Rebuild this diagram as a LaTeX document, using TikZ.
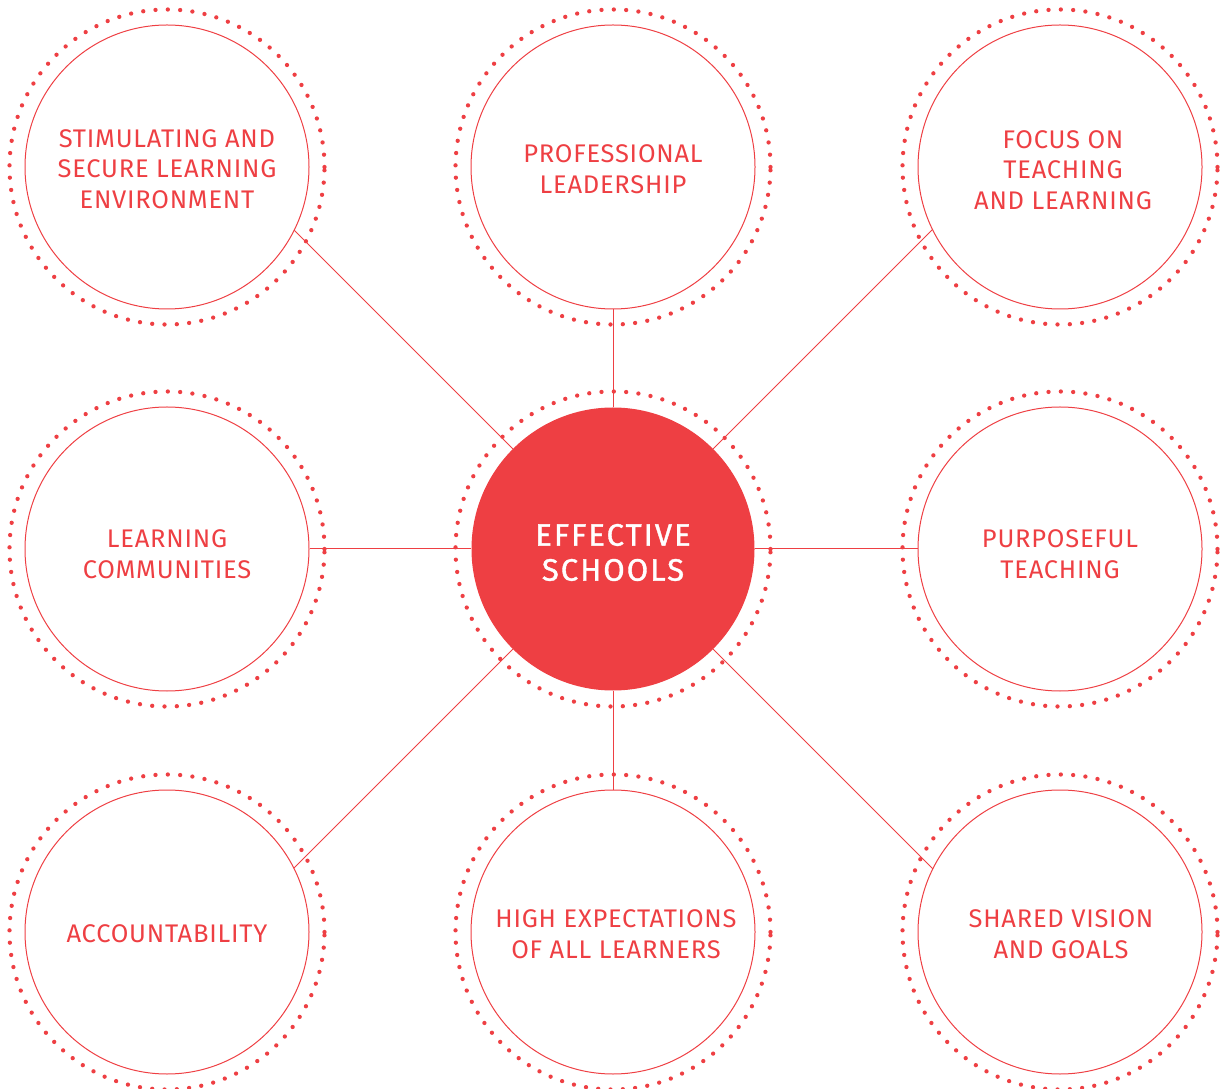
\documentclass[tikz,border=0pt]{standalone}
\usepackage{fontspec}
\setmainfont{Fira Sans}[LetterSpace=3]
\newfontfamily\hubfont{Fira Sans}[LetterSpace=6.5, FakeBold=1.2]
\usetikzlibrary{intersections}
\definecolor{esred}{HTML}{EE3F43}
\begin{document}
\begin{tikzpicture}[x=1pt,y=1pt,
  ring/.style={draw=esred, line width=4.3pt, dash pattern=on 0pt off 12.33pt, line cap=round},
  bubble/.style={circle, draw=esred, line width=1pt, minimum size=284pt, inner sep=0pt, align=center, text=esred, font=\fontsize{25.5}{30.5}\selectfont},
  hub/.style={circle, fill=esred, minimum size=283pt, inner sep=0pt, align=center, text=white, font=\hubfont\fontsize{31}{35}\selectfont},
  link/.style={draw=esred, line width=1pt}]
\useasboundingbox (0,0) rectangle (1223,1088);
% nodes
\node[hub] (c) at (613,539) {};
\node[text=white, align=center, font=\hubfont\fontsize{31}{35}\selectfont] (ct) at (613,535.5) {EFFECTIVE\\SCHOOLS};
\node[bubble] (tl) at (167,921) {};
\node[bubble] (tm) at (613,921) {};
\node[bubble] (tr) at (1060,921) {};
\node[bubble] (ml) at (167,539) {};
\node[bubble] (mr) at (1060,539) {};
\node[bubble] (bl) at (167,156) {};
\node[bubble] (bm) at (613,156) {};
\node[bubble] (br) at (1060,156) {};
\tikzset{lbl/.style={align=center, text=esred, font=\fontsize{25.5}{30.5}\selectfont}}
\node[lbl] (tlt) at ([yshift=-2pt]tl.center) {STIMULATING AND\\SECURE LEARNING\\ENVIRONMENT};
\node[lbl] (tmt) at ([yshift=-2pt]tm.center) {PROFESSIONAL\\LEADERSHIP};
\node[lbl] (trt) at ([xshift=3pt,yshift=-3pt]tr.center) {FOCUS ON\\TEACHING\\AND LEARNING};
\node[lbl] (mlt) at ([yshift=-5pt]ml.center) {LEARNING\\COMMUNITIES};
\node[lbl] (mrt) at ([yshift=-5pt]mr.center) {PURPOSEFUL\\TEACHING};
\node[lbl] (blt) at ([yshift=-2pt]bl.center) {ACCOUNTABILITY};
\node[lbl] (bmt) at ([xshift=3pt,yshift=-2pt]bm.center) {HIGH EXPECTATIONS\\OF ALL LEARNERS};
\node[lbl] (brt) at ([xshift=1pt,yshift=-2pt]br.center) {SHARED VISION\\AND GOALS};
% dotted rings
\foreach \n in {c,tl,tm,tr,ml,mr,bl,bm,br}
  \draw[ring] (\n.center) circle[radius=157.5];
% straight connectors
\draw[link] (c.north) -- (tm.south);
\draw[link] (c.south) -- (bm.north);
\draw[link] (c.west) -- (ml.east);
\draw[link] (c.east) -- (mr.west);
% diagonal connectors
\foreach \n/\a in {tl/135,tr/45,bl/225,br/315}{
  \path[name path=ray] (c.center) -- ++(\a:700);
  \path[name path=rim] (\n.center) circle[radius=142];
  \path[name intersections={of=ray and rim, sort by=ray, by={p\n}}];
  \draw[link] (c.\a) -- (p\n);
}
\end{tikzpicture}
\end{document}
